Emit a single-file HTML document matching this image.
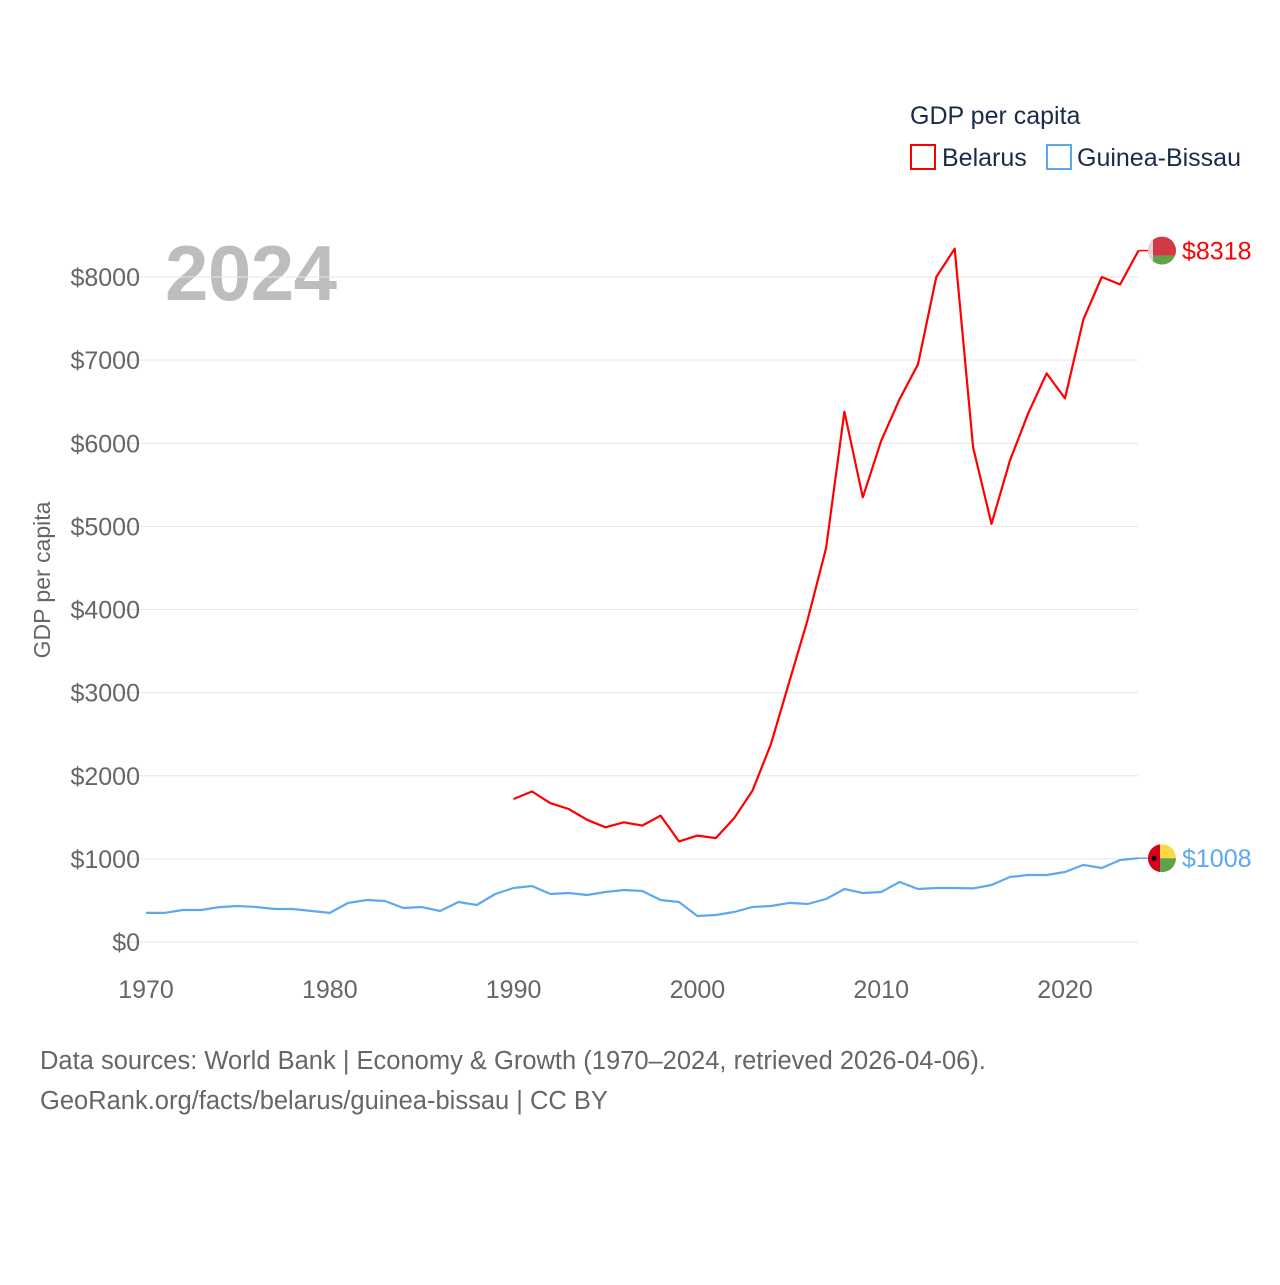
<!DOCTYPE html>
<html><head><meta charset="utf-8">
<style>
body{margin:0;background:#fff;}
svg text{font-family:"Liberation Sans",sans-serif;}
</style></head>
<body>
<svg id="chart" width="1280" height="1280" viewBox="0 0 1280 1280" xmlns="http://www.w3.org/2000/svg">
  <g id="legend">
    <text x="910" y="124" font-size="25" fill="#1a2a4a">GDP per capita</text>
    <rect x="911" y="145" width="24" height="24" fill="none" stroke="#f00" stroke-width="2"/>
    <text x="942" y="166" font-size="25" fill="#1a2a4a">Belarus</text>
    <rect x="1047" y="145" width="24" height="24" fill="none" stroke="#5ea8ee" stroke-width="2"/>
    <text x="1077" y="166" font-size="25" fill="#1a2a4a">Guinea-Bissau</text>
  </g>
  <text x="165" y="300" font-size="78" font-weight="bold" fill="#bdbdbd" textLength="172">2024</text>
  <text transform="translate(50,580) rotate(-90)" text-anchor="middle" font-size="23" fill="#666">GDP per capita</text>
  <g id="grid"></g>
  <g id="xticks"></g>
  <g id="lines"></g>
  <g id="ends"></g>
  <text x="40" y="1069" font-size="25.5" fill="#666">Data sources: World Bank | Economy &amp; Growth (1970–2024, retrieved 2026-04-06).</text>
  <text x="40" y="1109" font-size="25.5" fill="#666">GeoRank.org/facts/belarus/guinea-bissau | CC BY</text>
</svg>
<script>
const yTicks=[0,1000,2000,3000,4000,5000,6000,7000,8000];
const xTicks=[1970,1980,1990,2000,2010,2020];
const gbYears=[1970,1971,1972,1973,1974,1975,1976,1977,1978,1979,1980,1981,1982,1983,1984,1985,1986,1987,1988,1989,1990,1991,1992,1993,1994,1995,1996,1997,1998,1999,2000,2001,2002,2003,2004,2005,2006,2007,2008,2009,2010,2011,2012,2013,2014,2015,2016,2017,2018,2019,2020,2021,2022,2023,2024];
const gbValues=[350,350,385,385,420,433,421,397,397,373,350,470,505,493,409,421,373,481,445,578,650,674,578,590,566,602,626,614,505,481,313,325,361,421,433,470,457,517,638,590,602,722,638,650,650,645,686,782,806,806,842,927,890,987,1008];
const byYears=[1990,1991,1992,1993,1994,1995,1996,1997,1998,1999,2000,2001,2002,2003,2004,2005,2006,2007,2008,2009,2010,2011,2012,2013,2014,2015,2016,2017,2018,2019,2020,2021,2022,2023,2024];
const byValues=[1720,1810,1670,1600,1470,1380,1440,1400,1520,1210,1280,1250,1490,1820,2380,3130,3880,4740,6380,5350,6030,6530,6950,8000,8340,5950,5030,5790,6360,6840,6540,7490,8000,7910,8318];

const NS="http://www.w3.org/2000/svg";
function x(yr){return 146+(yr-1970)*(1065-146)/50;}
function y(v){return 942-v*(942-277)/8000;}
function mk(tag,attrs,parent){const e=document.createElementNS(NS,tag);for(const k in attrs)e.setAttribute(k,attrs[k]);parent.appendChild(e);return e;}
const grid=document.getElementById('grid');
yTicks.forEach(t=>{
  const l=mk('line',{x1:118,x2:1138,y1:y(t),y2:y(t),stroke:'#e6e6e6','stroke-width':1},grid);
  
  
  const tx=mk('text',{x:140,y:y(t)+9,'text-anchor':'end','font-size':25,fill:'#666'},grid);
  tx.textContent='$'+t;
  
  
});
const xt=document.getElementById('xticks');
xTicks.forEach(t=>{
  const tx=mk('text',{x:x(t),y:998,'text-anchor':'middle','font-size':25,fill:'#666'},xt);
  tx.textContent=t;
  
  
});
const lines=document.getElementById('lines');
function series(years,vals,color,name){
  const p=mk('polyline',{points:years.map((yr,i)=>x(yr).toFixed(1)+','+y(vals[i]).toFixed(1)).join(' '),fill:'none',stroke:color,'stroke-width':2.2,'stroke-linejoin':'round'},lines);
  
  
}
series(byYears,byValues,'#f00','belarus');
series(gbYears,gbValues,'#5ea8ee','guinea-bissau');
const ends=document.getElementById('ends');
function endMark(years,vals,color,name,flag){
  const lx=x(years[years.length-1]),lv=vals[vals.length-1],ly=y(lv);
  const c=1162;
  mk('line',{x1:lx,x2:c-14,y1:ly,y2:ly,stroke:color,'stroke-width':1.5},ends);
  const g=mk('g',{},ends);
  
  
  const cid='clip-'+name;
  const cp=mk('clipPath',{id:cid},g);mk('circle',{cx:c,cy:ly,r:14},cp);
  const gg=mk('g',{'clip-path':'url(#'+cid+')'},g);
  flag(gg,c,ly);
  const t=mk('text',{x:1182,y:ly+9,'font-size':25,fill:color},ends);
  t.textContent='$'+lv;
  
  
}
endMark(byYears,byValues,'#f00','belarus',(g,c,cy)=>{
  mk('rect',{x:c-14,y:cy-14,width:28,height:19,fill:'#cf3a45'},g);
  mk('rect',{x:c-14,y:cy+5,width:28,height:9,fill:'#5fa24a'},g);
  mk('rect',{x:c-14,y:cy-14,width:5,height:28,fill:'#f0d0d0'},g);
});
endMark(gbYears,gbValues,'#5ea8ee','guinea-bissau',(g,c,cy)=>{
  mk('rect',{x:c-14,y:cy-14,width:28,height:14,fill:'#fcd745'},g);
  mk('rect',{x:c-14,y:cy,width:28,height:14,fill:'#5fa24a'},g);
  mk('rect',{x:c-14,y:cy-14,width:12,height:28,fill:'#d9001e'},g);
  mk('circle',{cx:c-8,cy:cy,r:2.5,fill:'#000'},g);
});
</script>
</body></html>
